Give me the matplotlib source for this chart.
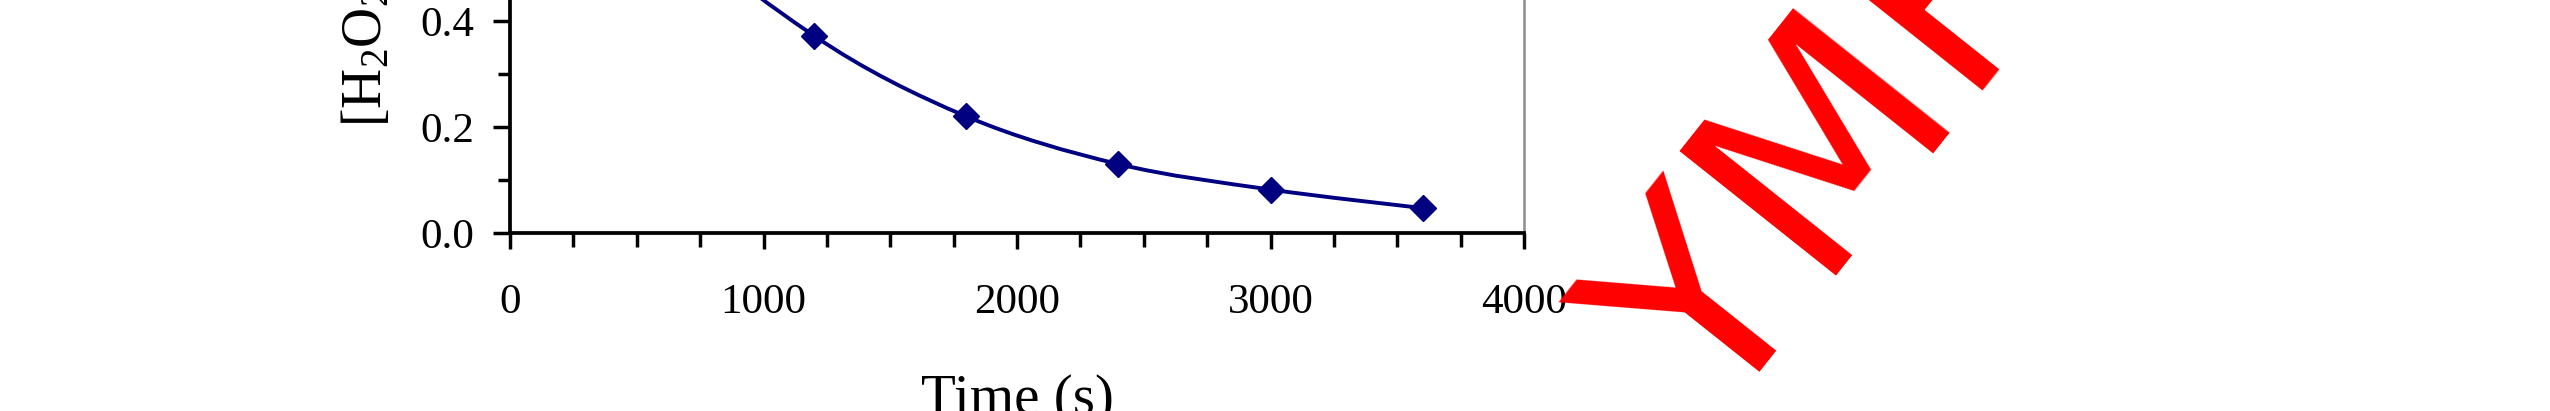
import numpy as np
import matplotlib
matplotlib.use("Agg")
from matplotlib import pyplot as plt
from matplotlib import transforms
from matplotlib.path import Path
from matplotlib.patches import PathPatch
from matplotlib.ticker import MultipleLocator, FormatStrFormatter

# time (s) and [H2O2]; first two points sit above the visible strip
time_s = [0, 600, 1200, 1800, 2400, 3000, 3600]
conc = [1.0, 0.61, 0.372, 0.220, 0.130, 0.082, 0.047]

x_ticks = [0, 1000, 2000, 3000, 4000]
y_ticks = [0.0, 0.2, 0.4, 0.6, 0.8, 1.0, 1.2]

navy = '#000080'

plt.rcParams['font.family'] = ['Liberation Serif', 'DejaVu Serif']
plt.rcParams['mathtext.fontset'] = 'custom'
plt.rcParams['mathtext.rm'] = 'Liberation Serif'
plt.rcParams['mathtext.it'] = 'Liberation Serif:italic'


def smooth_path(xs, ys):
    # excel-style smoothed line: cubic bezier through every point
    n = len(xs)
    verts = [(xs[0], ys[0])]
    codes = [Path.MOVETO]
    for i in range(n - 1):
        x0, y0 = (xs[i - 1], ys[i - 1]) if i > 0 else (xs[i], ys[i])
        x1, y1 = xs[i], ys[i]
        x2, y2 = xs[i + 1], ys[i + 1]
        x3, y3 = (xs[i + 2], ys[i + 2]) if i + 2 < n else (x2, y2)
        verts += [(x1 + (x2 - x0) / 6, y1 + (y2 - y0) / 6),
                  (x2 - (x3 - x1) / 6, y2 - (y3 - y1) / 6),
                  (x2, y2)]
        codes += [Path.CURVE4] * 3
    return Path(verts, codes)


W, H = 2550, 411
fig = plt.figure(figsize=(W / 100, H / 100), dpi=100)

ymax = y_ticks[-1]
px_per_unit = 530
ax = fig.add_axes([510 / W, 178 / H, 1014 / W, ymax * px_per_unit / H])
ax.set_xlim(0, 4000)
ax.set_ylim(0, ymax)

ax.add_patch(PathPatch(smooth_path(time_s, conc), facecolor='none',
                       edgecolor=navy, lw=2.8, zorder=3))
ax.plot(time_s, conc, ls='none', marker='D', ms=13.5, color=navy, zorder=4)

ax.set_xticks(x_ticks)
ax.xaxis.set_minor_locator(MultipleLocator(250))
ax.set_yticks(y_ticks)
ax.yaxis.set_minor_locator(MultipleLocator(0.1))
ax.yaxis.set_major_formatter(FormatStrFormatter('%.1f'))

ax.spines['top'].set_visible(False)
ax.spines['left'].set_linewidth(2.7)
ax.spines['bottom'].set_linewidth(2.7)
ax.spines['right'].set_color('#8c8c8c')
ax.spines['right'].set_linewidth(1.8)

ax.tick_params(axis='x', which='major', direction='out', length=11.5, width=2.5,
               labelsize=31, pad=25)
ax.tick_params(axis='x', which='minor', direction='out', length=10, width=2.5)
ax.tick_params(axis='y', which='major', direction='out', length=12, width=2.5,
               labelsize=31, pad=14)
ax.tick_params(axis='y', which='minor', direction='out', length=8.5, width=2.5)

ax.set_xlabel('Time (s)', fontsize=41, labelpad=37)

ax.text(381 / W, 0.2, r'[H$_2$O$_2$] (M)', fontsize=40, rotation=90,
        rotation_mode='anchor', ha='left', va='baseline',
        transform=transforms.blended_transform_factory(fig.transFigure, ax.transData))

# red watermark across the right side
fig.text(0.6733, -0.039, 'YMF', rotation=51.5, rotation_mode='anchor',
         ha='left', va='baseline', color='red', fontsize=197,
         family='DejaVu Sans')

fig.savefig('out.png', dpi=100)
